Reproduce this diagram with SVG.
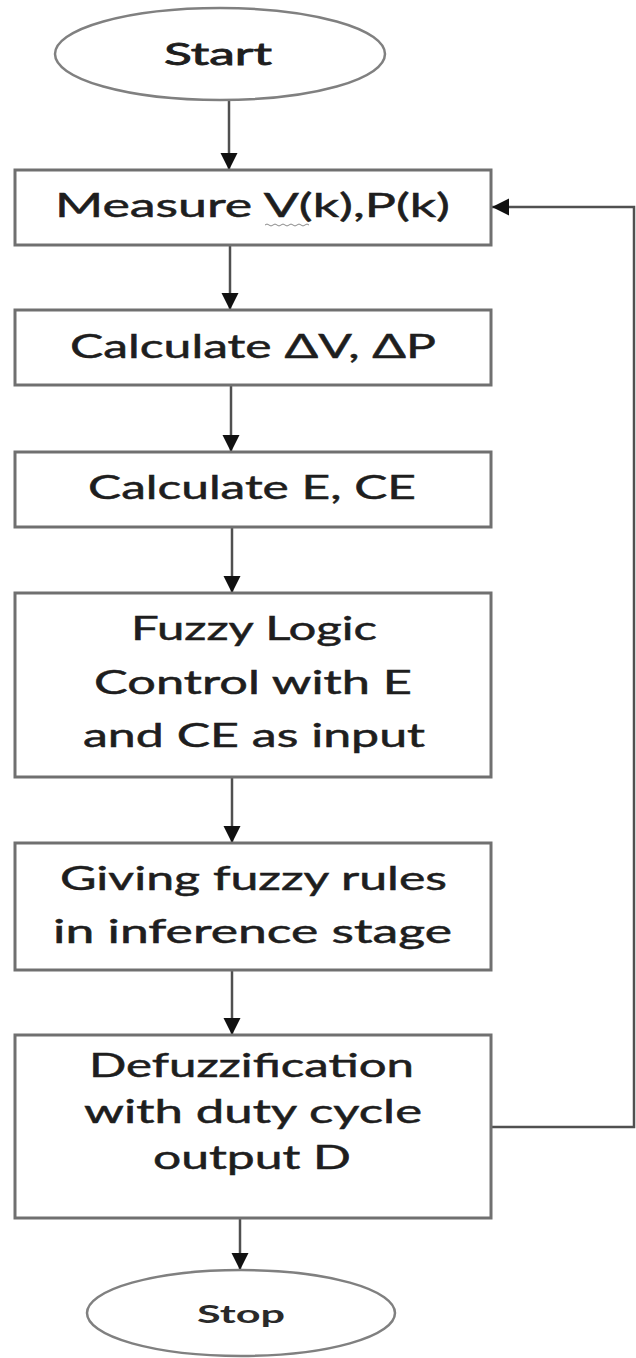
<svg xmlns="http://www.w3.org/2000/svg" width="636" height="1358" viewBox="0 0 636 1358">
<defs>
<style>
.box{fill:#fff;stroke:#707070;stroke-width:3}
.term{fill:#fff;stroke:#808080;stroke-width:2.5}
.t{font-family:Lato,"Open Sans","Liberation Sans",sans-serif;font-size:33px;fill:#1e1e1e;stroke:#1e1e1e;stroke-width:0.5}
.tb{font-family:Lato,"Open Sans","Liberation Sans",sans-serif;font-weight:bold;fill:#2a2a2a}
.c{fill:none;stroke:#505050;stroke-width:2.5}
</style>
<marker id="ah" viewBox="0 0 10 10" refX="10" refY="5" markerWidth="17" markerHeight="18" markerUnits="userSpaceOnUse" orient="auto">
<path d="M0,0 L10,5 L0,10 z" fill="#111"/>
</marker>
</defs>
<rect width="636" height="1358" fill="#fff"/>
<g id="connectors">
<path class="c" d="M229,100 V170" marker-end="url(#ah)"/>
<path class="c" d="M230,245 V310" marker-end="url(#ah)"/>
<path class="c" d="M231,385 V452" marker-end="url(#ah)"/>
<path class="c" d="M232,527 V593" marker-end="url(#ah)"/>
<path class="c" d="M232,777 V843" marker-end="url(#ah)"/>
<path class="c" d="M232,970 V1035" marker-end="url(#ah)"/>
<path class="c" d="M240,1218 V1270" marker-end="url(#ah)"/>
<path class="c" d="M491,1127 H634 V207 H492" marker-end="url(#ah)"/>
</g>
<g id="start">
<ellipse class="term" cx="220" cy="54" rx="165" ry="46"/>
<text class="t" x="164" y="65" font-size="31" textLength="108" lengthAdjust="spacingAndGlyphs" style="font-size:31px;stroke-width:0.8">Start</text>
</g>
<g id="measure">
<rect class="box" x="15" y="170" width="476" height="75"/>
<text class="t" x="55" y="217" textLength="395" lengthAdjust="spacingAndGlyphs">Measure V(k),P(k)</text>
<path d="M265,225 q2,-2 4,0 t4,0 t4,0 t4,0 t4,0 t4,0 t4,0 t4,0 t4,0 t4,0 t4,0" fill="none" stroke="#8a8a8a" stroke-width="1"/>
</g>
<g id="calc-dv">
<rect class="box" x="15" y="310" width="476" height="75"/>
<text class="t" x="70" y="358" textLength="366" lengthAdjust="spacingAndGlyphs">Calculate ΔV, ΔP</text>
</g>
<g id="calc-e">
<rect class="box" x="15" y="452" width="476" height="75"/>
<text class="t" x="88" y="499" textLength="328" lengthAdjust="spacingAndGlyphs">Calculate E, CE</text>
</g>
<g id="fuzzy">
<rect class="box" x="15" y="593" width="476" height="184"/>
<text class="t" x="131" y="640" textLength="246" lengthAdjust="spacingAndGlyphs">Fuzzy Logic</text>
<text class="t" x="94" y="694" textLength="318" lengthAdjust="spacingAndGlyphs">Control with E</text>
<text class="t" x="83" y="747" textLength="342" lengthAdjust="spacingAndGlyphs">and CE as input</text>
</g>
<g id="giving">
<rect class="box" x="15" y="843" width="476" height="127"/>
<text class="t" x="60" y="890" textLength="387" lengthAdjust="spacingAndGlyphs">Giving fuzzy rules</text>
<text class="t" x="53" y="943" textLength="399" lengthAdjust="spacingAndGlyphs">in inference stage</text>
</g>
<g id="defuzz">
<rect class="box" x="15" y="1035" width="476" height="183"/>
<text class="t" x="89" y="1077" textLength="325" lengthAdjust="spacingAndGlyphs">Defuzzification</text>
<text class="t" x="84" y="1123" textLength="338" lengthAdjust="spacingAndGlyphs">with duty cycle</text>
<text class="t" x="153" y="1169" textLength="198" lengthAdjust="spacingAndGlyphs">output D</text>
</g>
<g id="stop">
<ellipse class="term" cx="241" cy="1313" rx="154" ry="43"/>
<text class="tb" x="197" y="1323" font-size="25" textLength="88" lengthAdjust="spacingAndGlyphs">Stop</text>
</g>
</svg>
